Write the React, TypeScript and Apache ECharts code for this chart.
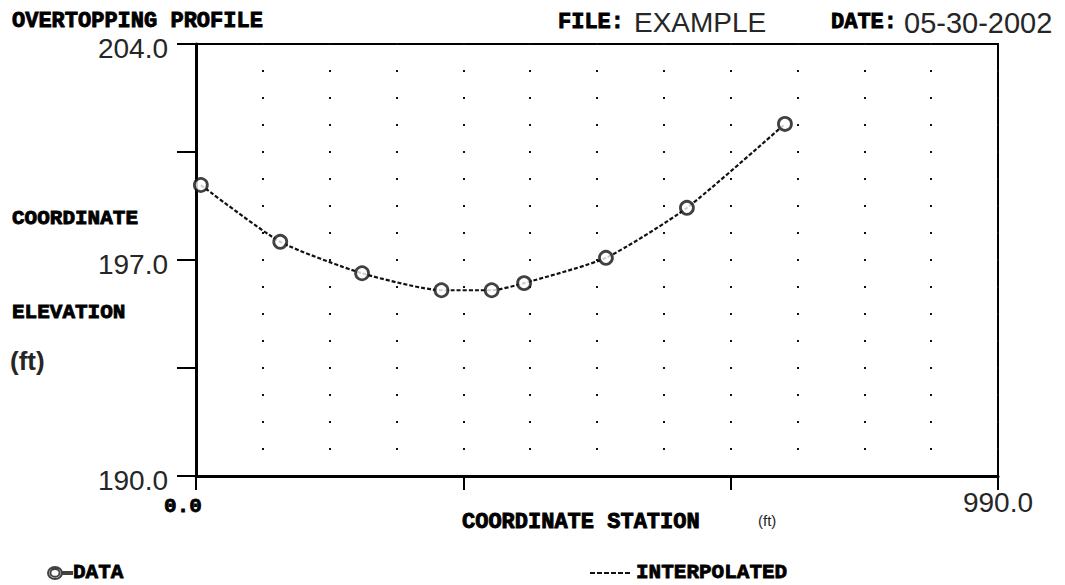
import React, { useEffect, useRef } from "react";
import * as echarts from "echarts";

const stationFt = [6, 104, 205, 303, 365, 405, 506, 606, 727];
const elevationFt = [199.43, 197.59, 196.57, 196.02, 196.02, 196.25, 197.07, 198.69, 201.41];
const xTickLabels = ["0.0", "990.0"];
const yTickValues = [190, 197, 204];
const yTickLabels = ["190.0", "197.0", "204.0"];

const SLAB = '"Liberation Mono", "DejaVu Sans Mono", monospace';
const SANS = '"Liberation Sans", Arial, sans-serif';

const slab = (text: string, x: number, y: number, size = 22) => ({
  type: "text",
  x,
  y,
  style: {
    text, x: 0, y: 0, align: "left", verticalAlign: "middle",
    fontFamily: SLAB, fontWeight: "bold", fontSize: size,
    fill: "#000", stroke: "#000", lineWidth: 0.9,
  },
});
const sans = (text: string, x: number, y: number, size: number, bold = false) => ({
  type: "text",
  x,
  y,
  style: {
    text, x: 0, y: 0, align: "left", verticalAlign: "middle",
    fontFamily: SANS, fontWeight: bold ? "bold" : "normal", fontSize: size, fill: "#262626",
  },
});

export default function App() {
  const ref = useRef<HTMLDivElement>(null);
  useEffect(() => {
    document.body.style.margin = "0";
    const chart = echarts.init(ref.current!, null, { renderer: "svg" });
    const pts = stationFt.map((x, i) => [x, elevationFt[i]]);
    const gridH = 432;
    const dot = 2;
    chart.setOption({
      animation: false,
      backgroundColor: "#fff",
      grid: {
        left: 196, right: 67, top: 44, bottom: 109,
        show: true, borderColor: "#000", borderWidth: 2, backgroundColor: "transparent",
      },
      xAxis: [
        {
          type: "value", min: 0, max: 990, interval: 82.5, position: "bottom",
          axisLine: { show: true, lineStyle: { color: "#000", width: 3 } },
          axisTick: { show: false }, axisLabel: { show: false },
          splitLine: {
            show: true,
            lineStyle: { color: "#111", width: 2, type: [dot, gridH / 16 - dot], dashOffset: dot / 2 },
          },
        },
        {
          type: "value", min: 0, max: 990, interval: 330, position: "bottom",
          axisLine: { show: false },
          axisTick: { show: true, length: 14, lineStyle: { color: "#000", width: 2 } },
          splitLine: { show: false },
          axisLabel: {
            show: true, margin: 12,
            formatter: (v: number) =>
              v === 0 ? "{a|" + xTickLabels[0] + "}" : v === 990 ? "{b|" + xTickLabels[1] + "}" : "",
            rich: {
              a: {
                fontFamily: SLAB, fontWeight: "bold", fontSize: 21, color: "#000",
                textBorderColor: "#000", textBorderWidth: 0.8, padding: [8, 26, 0, 0],
              },
              b: { fontFamily: SANS, fontSize: 28, color: "#262626" },
            },
          },
        },
      ],
      yAxis: [
        {
          type: "value", min: 190, max: 204, interval: 0.875, position: "left",
          axisLine: { show: true, lineStyle: { color: "#000", width: 3 } },
          axisTick: { show: false }, axisLabel: { show: false }, splitLine: { show: false },
        },
        {
          type: "value", min: 190, max: 204, interval: 3.5, position: "left", offset: 4,
          axisLine: { show: false },
          axisTick: { show: true, length: 19, lineStyle: { color: "#000", width: 2 } },
          splitLine: { show: false },
          axisLabel: {
            show: true, margin: 24, interval: 1,
            formatter: (v: number) => {
              const idx = yTickValues.indexOf(v);
              return idx >= 0 ? yTickLabels[idx] : "";
            },
            fontFamily: SANS, fontSize: 28, color: "#262626",
            verticalAlign: "top", lineHeight: 8,
          },
        },
      ],
      legend: [
        {
          data: ["DATA"], left: 47, top: 562, padding: 0, itemWidth: 24, itemHeight: 12, itemGap: 0,
          icon: "path://M7,0 A7,6 0 1 1 7,12 A7,6 0 1 1 7,0 Z M7,2.2 A4.6,3.8 0 1 0 7,9.8 A4.6,3.8 0 1 0 7,2.2 Z M14,5 L24,5 L24,7 L14,7 Z",
          textStyle: {
            fontFamily: SLAB, fontWeight: "bold", fontSize: 21, color: "#000",
            textBorderColor: "#000", textBorderWidth: 0.8, padding: [0, 0, 0, -4],
          },
        },
        {
          data: ["INTERPOLATED"], left: 590, top: 562, padding: 0, itemWidth: 42, itemHeight: 2,
          icon: "path://M0,0h5v2h-5z M7,0h5v2h-5z M14,0h5v2h-5z M21,0h5v2h-5z M28,0h5v2h-5z M35,0h5v2h-5z",
          textStyle: {
            fontFamily: SLAB, fontWeight: "bold", fontSize: 21, color: "#000",
            textBorderColor: "#000", textBorderWidth: 0.8,
          },
        },
      ],
      graphic: [
        slab("OVERTOPPING PROFILE", 12, 21, 22),
        slab("FILE:", 558, 22, 22),
        sans("EXAMPLE", 634, 22, 28),
        slab("DATE:", 831, 22, 22),
        sans("05-30-2002", 904, 23, 29),
        slab("COORDINATE", 12, 218, 21),
        slab("ELEVATION", 12, 312, 21),
        sans("(ft)", 10, 361, 26, true),
        slab("COORDINATE STATION", 462, 522, 22),
        sans("(ft)", 758, 520, 15),
      ],
      series: [
        {
          name: "INTERPOLATED", type: "line", data: pts, xAxisIndex: 0, yAxisIndex: 0,
          smooth: 0.2, symbol: "none", showSymbol: false,
          lineStyle: { color: "#111", width: 2.2, type: [4, 2] },
          itemStyle: { color: "#111" },
          z: 3,
        },
        {
          name: "DATA", type: "scatter", data: pts, xAxisIndex: 0, yAxisIndex: 0,
          symbol: "circle", symbolSize: 13,
          itemStyle: { color: "#fff", borderColor: "#111", borderWidth: 2.8 },
          z: 4,
        },
      ],
    });
    return () => chart.dispose();
  }, []);
  return <div ref={ref} style={{ width: 1065, height: 585 }} />;
}
